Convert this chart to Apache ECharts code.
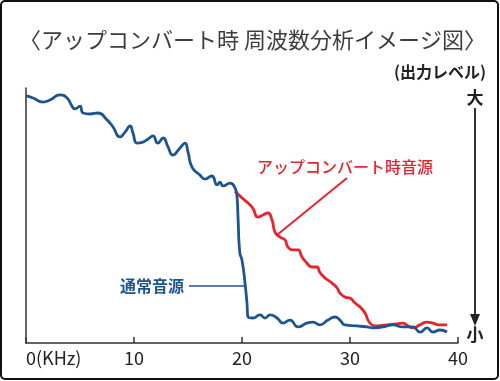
<!DOCTYPE html>
<html><head><meta charset="utf-8">
<script src="https://cdn.jsdelivr.net/npm/echarts@6/dist/echarts.min.js"></script>
<style>html,body{margin:0;padding:0;background:#fff}#c{width:500px;height:381px}</style>
</head><body><div id="c"></div>
<script>
var xTicks = [0, 10, 20, 30, 40];
var blueX = [0,0.65,1.57,2.22,3.15,3.8,4.26,4.54,5.0,5.28,5.93,6.67,7.5,8.06,8.7,9.17,9.63,9.9,10.28,10.83,11.3,11.76,12.2,12.7,13.15,13.6,14.26,14.72,15.0,15.37,16.1,16.57,17.2,17.7,17.96,18.24,18.9,19.35,19.54,19.63,19.8,20.0,20.28,20.46,20.56,21.0,21.67,22.13,22.6,23.24,23.8,24.44,25.19,26.0,26.57,27.2,27.96,28.6,29.07,29.54,30.65,31.57,32.13,33.06,33.98,34.9,35.83,36.48,37.13,37.69,38.33,38.98];
var blueY = [96.9,96.1,94.5,95.3,97.3,96.1,92.9,91.8,92.9,90.2,89.8,90.2,87.5,84.7,80.8,82.7,85.1,82.4,78.4,78.8,80.0,81.2,78.4,80.4,76.9,73.7,76.5,78.4,74.9,69.0,65.9,64.3,65.5,62.0,63.1,61.6,62.7,60.8,57.3,49.4,35.3,32.5,23.5,15.7,10.2,9.8,11.0,9.8,11.0,9.8,7.8,9.0,6.3,7.8,8.2,7.1,9.0,10.2,9.0,7.1,6.7,6.3,5.9,6.3,7.1,6.3,6.3,4.3,5.9,4.3,5.1,4.3];
var redX = [19.35,20.0,20.56,21.0,21.48,21.94,22.4,22.78,23.06,23.5,23.98,24.26,24.72,25.19,25.56,26.0,26.48,26.94,27.2,27.69,28.33,28.8,29.07,29.54,30.0,30.46,30.93,31.39,31.85,32.5,33.43,34.35,34.9,35.37,35.83,36.48,37.13,37.69,38.33,38.98];
var redY = [59.5,56.9,54.9,52.9,49.4,50.2,51.0,48.2,43.5,41.6,40.4,37.6,36.5,36.5,33.7,31.4,29.8,29.8,27.8,25.5,23.5,21.6,19.6,18.0,17.6,15.7,14.1,11.8,7.8,6.7,7.1,7.5,7.8,6.7,5.9,7.1,8.2,7.8,7.1,7.1];
var titleText = '〈アップコンバート時 周波数分析イメージ図〉';
var yName = '(出力レベル)';
var blueName = '通常音源';
var redName = 'アップコンバート時音源';

function zip(xs, ys){ return xs.map(function(x,i){ return [x, ys[i]]; }); }
var FONT = '"Noto Sans CJK JP", "Noto Sans", sans-serif';
var chart = echarts.init(document.getElementById('c'), null, {renderer:'canvas'});
chart.setOption({
  animation: false,
  backgroundColor: '#fff',
  grid: {left: 26, right: 42, top: 88, bottom: 38, containLabel: false},
  xAxis: {
    type: 'value', min: xTicks[0], max: xTicks[xTicks.length-1], interval: 10,
    axisLine: {show: true, lineStyle: {color: '#333', width: 1.5}},
    axisTick: {show: true, inside: true, length: 6, lineStyle: {color: '#333', width: 1.5}},
    splitLine: {show: false},
    axisLabel: {
      color: '#222', fontSize: 18, fontFamily: FONT, margin: 6,
      alignMinLabel: 'left',
      formatter: function(v){ return v === 0 ? '0(KHz)' : String(v); }
    }
  },
  yAxis: {
    type: 'value', min: 0, max: 100, position: 'right',
    axisLine: {show: true, lineStyle: {color: '#333', width: 1.5}},
    axisTick: {show: false}, axisLabel: {show: false}, splitLine: {show: false}
  },
  series: [
    {type: 'line', name: blueName, data: zip(blueX, blueY), smooth: 0.55, showSymbol: false, z: 3,
     lineStyle: {color: '#1d5591', width: 2.8}},
    {type: 'line', name: redName, data: zip(redX, redY), smooth: 0.55, showSymbol: false, z: 2,
     lineStyle: {color: '#e8232d', width: 2.8}}
  ],
  graphic: [
    {type: 'rect', shape: {x: 1, y: 1, width: 497, height: 378, r: 4}, style: {fill: 'none', stroke: '#111', lineWidth: 2}},
    {type: 'text', x: 19, y: 40, style: {text: titleText, font: '22px ' + FONT, fill: '#3d3d3d', textVerticalAlign: 'middle', verticalAlign: 'middle'}},
    {type: 'text', x: 486, y: 72, style: {text: yName, font: 'bold 16px ' + FONT, fill: '#222', textAlign: 'right', align: 'right', verticalAlign: 'middle', textVerticalAlign: 'middle'}},
    {type: 'text', x: 475, y: 98, style: {text: '大', font: 'bold 17px ' + FONT, fill: '#222', align: 'center', textAlign: 'center', verticalAlign: 'middle', textVerticalAlign: 'middle'}},
    {type: 'text', x: 475, y: 335, style: {text: '小', font: 'bold 17px ' + FONT, fill: '#222', align: 'center', textAlign: 'center', verticalAlign: 'middle', textVerticalAlign: 'middle'}},
    {type: 'line', shape: {x1: 475, y1: 108, x2: 475, y2: 318}, style: {stroke: '#333', lineWidth: 2}},
    {type: 'polygon', shape: {points: [[470, 314], [480, 314], [475, 326]]}, style: {fill: '#222'}},
    {type: 'text', x: 120, y: 286, style: {text: blueName, font: 'bold 16px ' + FONT, fill: '#1d5591', verticalAlign: 'middle', textVerticalAlign: 'middle'}},
    {type: 'line', shape: {x1: 189, y1: 286, x2: 245, y2: 286}, style: {stroke: '#1d5591', lineWidth: 1.5}},
    {type: 'text', x: 257, y: 167, style: {text: redName, font: '500 16px ' + FONT, fill: '#e8232d', verticalAlign: 'middle', textVerticalAlign: 'middle'}},
    {type: 'line', shape: {x1: 347, y1: 178, x2: 277, y2: 235}, style: {stroke: '#e8232d', lineWidth: 2}}
  ]
});
</script></body></html>
